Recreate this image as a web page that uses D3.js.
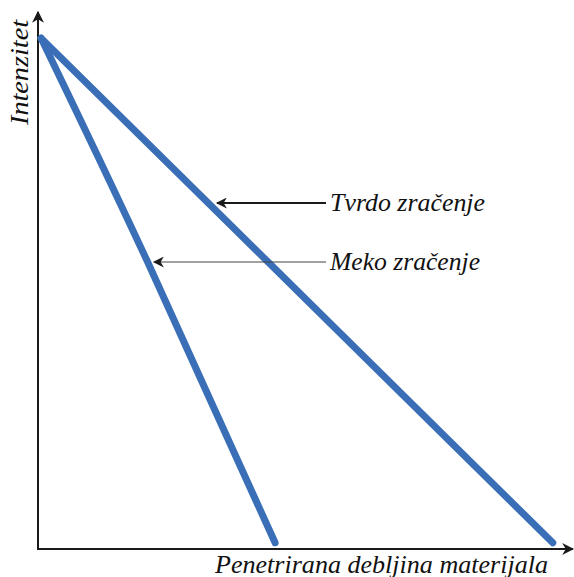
<!DOCTYPE html>
<html><head><meta charset="utf-8">
<script src="https://cdn.jsdelivr.net/npm/d3@7"></script>
<style>body{margin:0;background:#fff}</style>
</head><body>
<svg id="c" width="574" height="577"></svg>
<script>
// Data (arbitrary units)
const hardX = [0.06, 9.9];
const hardY = [9.9, 0.12];
const softX = [0.06, 2.1, 4.56];
const softY = [9.9, 5.58, 0.12];
const labels = ["Tvrdo zračenje", "Meko zračenje"];
const axisLabels = ["Penetrirana debljina materijala", "Intenzitet"];

const svg = d3.select("#c");
const x = d3.scaleLinear().domain([0, 10]).range([38, 558]);
const y = d3.scaleLinear().domain([0, 10]).range([549, 33]);
const font = "'Liberation Serif','Times New Roman',serif";

const defs = svg.append("defs");
function marker(id, w, h) {
  defs.append("marker").attr("id", id).attr("viewBox", "0 0 10 10")
    .attr("refX", 9).attr("refY", 5).attr("markerWidth", w).attr("markerHeight", h)
    .attr("markerUnits", "userSpaceOnUse").attr("orient", "auto")
    .append("path").attr("d", "M0,0 L10,5 L0,10 L3,5 Z").attr("fill", "#1a1a1a");
}
marker("ax", 14, 12);
marker("ar1", 14, 11);
marker("ar2", 13, 11);

// axes
svg.append("line").attr("x1", 38).attr("y1", 550).attr("x2", 38).attr("y2", 12)
  .attr("stroke", "#1a1a1a").attr("stroke-width", 2).attr("marker-end", "url(#ax)");
svg.append("line").attr("x1", 37).attr("y1", 549).attr("x2", 573).attr("y2", 549)
  .attr("stroke", "#1a1a1a").attr("stroke-width", 2).attr("marker-end", "url(#ax)");

const line = d3.line().x(d => x(d[0])).y(d => y(d[1])).curve(d3.curveNatural);
const hard = hardX.map((v, i) => [v, hardY[i]]);
const soft = softX.map((v, i) => [v, softY[i]]);
[hard, soft].forEach(d => {
  svg.append("path").datum(d).attr("d", line).attr("fill", "none")
    .attr("stroke", "#3a6fb7").attr("stroke-width", 7)
    .attr("stroke-linecap", "round").attr("stroke-linejoin", "round");
});

// annotations
svg.append("line").attr("x1", 326).attr("y1", 203).attr("x2", 217).attr("y2", 203)
  .attr("stroke", "#1a1a1a").attr("stroke-width", 2).attr("marker-end", "url(#ar1)");
svg.append("line").attr("x1", 326).attr("y1", 262).attr("x2", 154).attr("y2", 262)
  .attr("stroke", "#444").attr("stroke-width", 1).attr("marker-end", "url(#ar2)");

function lbl(t, xx, yy, len) {
  return svg.append("text").attr("x", xx).attr("y", yy).text(t)
    .attr("font-family", font).attr("font-style", "italic").attr("font-size", 25)
    .attr("fill", "#111").attr("textLength", len).attr("lengthAdjust", "spacingAndGlyphs");
}
lbl(labels[0], 330, 211, 155);
lbl(labels[1], 330, 270, 150);
lbl(axisLabels[0], 215, 573, 333);
lbl(axisLabels[1], 0, 0, 105).attr("transform", "translate(28,125) rotate(-90)");
</script>
</body></html>
